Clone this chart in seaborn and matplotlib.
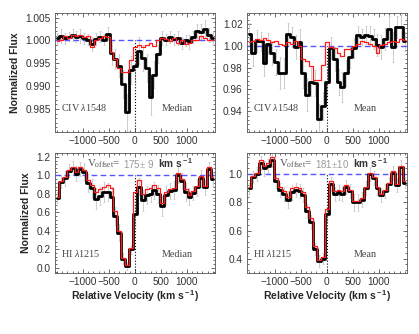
import numpy as np
import matplotlib
matplotlib.use("Agg")
import matplotlib.pyplot as plt
from matplotlib.ticker import MultipleLocator, AutoMinorLocator
import seaborn as sns

# ---- Data ------------------------------------------------------------------
velocity = np.arange(-1500, 1501, 75)  # bin centres, km/s

civ_median_black = [1.0005, 1.0010, 1.0005, 1.0008, 1.0012, 1.0008, 1.0010, 1.0005, 1.0002, 0.9992,
                    1.0003, 1.0008, 1.0002, 1.0015, 0.9972, 0.9960, 0.9945, 0.9905, 0.9843, 0.9935,
                    0.9945, 0.9978, 0.9962, 0.9940, 0.9877, 0.9925, 0.9970, 1.0005, 1.0002, 1.0008,
                    1.0003, 1.0006, 0.9995, 1.0000, 0.9996, 1.0008, 1.0020, 1.0018, 1.0025, 1.0012, 1.0005]
civ_median_red = [0.9998, 1.0002, 1.0010, 1.0005, 1.0013, 1.0010, 1.0012, 1.0008, 1.0010, 0.9985,
                  1.0000, 1.0005, 1.0010, 1.0008, 0.9975, 0.9960, 0.9940, 0.9930, 0.9930, 0.9958,
                  0.9985, 0.9990, 0.9985, 0.9990, 0.9995, 0.9988, 1.0000, 1.0005, 1.0003, 0.9998,
                  1.0005, 0.9995, 1.0002, 0.9992, 0.9995, 1.0000, 1.0002, 1.0010, 1.0005, 1.0002, 1.0000]
civ_median_err = [0.0012, 0.0015, 0.0012, 0.0010, 0.0013, 0.0012, 0.0015, 0.0012, 0.0013, 0.0015,
                  0.0014, 0.0012, 0.0013, 0.0015, 0.0025, 0.0022, 0.0025, 0.0030, 0.0040, 0.0030,
                  0.0035, 0.0030, 0.0028, 0.0030, 0.0040, 0.0030, 0.0020, 0.0015, 0.0012, 0.0013,
                  0.0012, 0.0015, 0.0013, 0.0012, 0.0015, 0.0013, 0.0015, 0.0018, 0.0020, 0.0015, 0.0013]

civ_mean_black = [1.011, 0.993, 1.004, 1.004, 0.984, 1.002, 0.993, 0.985, 0.975, 0.975,
                  1.011, 1.008, 0.999, 1.003, 0.975, 0.955, 0.967, 0.966, 0.933, 0.945,
                  0.967, 0.998, 0.988, 0.967, 0.962, 0.975, 0.990, 0.998, 1.010, 1.008,
                  1.010, 1.009, 1.006, 1.001, 0.999, 1.006, 1.015, 0.999, 1.017, 1.017, 1.004]
civ_mean_red = [1.003, 1.004, 1.006, 1.005, 1.007, 1.005, 1.003, 1.004, 1.002, 1.001,
                1.003, 1.002, 1.004, 1.000, 0.988, 0.986, 0.981, 0.969, 0.969, 0.982,
                1.003, 0.999, 0.998, 0.993, 0.991, 0.997, 0.997, 1.000, 1.002, 1.004,
                1.003, 1.002, 1.000, 0.993, 1.001, 1.002, 1.003, 1.004, 1.003, 1.006, 1.005]
civ_mean_err = [0.010, 0.012, 0.010, 0.009, 0.012, 0.010, 0.011, 0.012, 0.015, 0.014,
                0.010, 0.009, 0.011, 0.012, 0.014, 0.015, 0.013, 0.012, 0.014, 0.013,
                0.012, 0.010, 0.011, 0.012, 0.014, 0.012, 0.010, 0.009, 0.008, 0.007,
                0.008, 0.009, 0.009, 0.010, 0.011, 0.010, 0.012, 0.014, 0.010, 0.011, 0.009]

hi_median_black = [0.76, 0.93, 0.97, 1.05, 1.08, 1.02, 1.07, 1.04, 0.92, 0.86,
                   0.75, 0.78, 0.82, 0.82, 0.77, 0.56, 0.38, 0.10, 0.02, 0.20,
                   0.58, 0.88, 0.73, 0.79, 0.80, 0.84, 0.80, 0.67, 0.79, 0.83,
                   0.84, 1.01, 0.94, 0.82, 0.77, 0.81, 0.87, 0.97, 0.87, 1.07, 0.96]
hi_median_red = [0.77, 0.94, 0.98, 1.06, 1.09, 1.04, 1.09, 1.06, 0.95, 0.90,
                 0.82, 0.85, 0.88, 0.90, 0.86, 0.62, 0.40, 0.11, 0.03, 0.22,
                 0.82, 0.95, 0.80, 0.85, 0.86, 0.90, 0.86, 0.70, 0.82, 0.85,
                 0.86, 1.03, 0.96, 0.85, 0.79, 0.83, 0.89, 0.99, 0.89, 1.09, 0.98]
hi_median_err = [0.06, 0.07, 0.08, 0.07, 0.08, 0.08, 0.08, 0.09, 0.10, 0.10,
                 0.11, 0.10, 0.11, 0.10, 0.11, 0.10, 0.09, 0.06, 0.04, 0.05,
                 0.10, 0.09, 0.11, 0.10, 0.09, 0.09, 0.10, 0.11, 0.10, 0.09,
                 0.10, 0.09, 0.09, 0.10, 0.09, 0.08, 0.09, 0.09, 0.08, 0.08, 0.07]

hi_mean_black = [0.90, 0.98, 1.00, 1.08, 1.04, 1.06, 1.10, 0.95, 0.89, 0.86,
                 0.82, 0.87, 0.89, 0.88, 0.85, 0.74, 0.66, 0.47, 0.385, 0.40,
                 0.72, 0.93, 0.86, 0.87, 0.86, 0.91, 0.88, 0.80, 0.80, 0.82,
                 0.90, 1.00, 0.97, 0.90, 0.85, 0.88, 0.93, 1.01, 0.92, 1.05, 0.94]
hi_mean_red = [0.91, 0.99, 1.01, 1.10, 1.06, 1.08, 1.12, 0.97, 0.91, 0.88,
               0.84, 0.90, 0.91, 0.90, 0.87, 0.77, 0.69, 0.49, 0.39, 0.41,
               0.75, 0.95, 0.88, 0.89, 0.88, 0.92, 0.89, 0.81, 0.81, 0.83,
               0.91, 1.01, 0.98, 0.91, 0.86, 0.89, 0.94, 1.02, 0.93, 1.06, 0.95]
hi_mean_err = [0.04, 0.04, 0.05, 0.05, 0.05, 0.05, 0.05, 0.05, 0.05, 0.05,
               0.06, 0.05, 0.05, 0.05, 0.05, 0.05, 0.05, 0.04, 0.04, 0.04,
               0.05, 0.05, 0.05, 0.05, 0.05, 0.05, 0.05, 0.06, 0.06, 0.05,
               0.05, 0.05, 0.05, 0.05, 0.05, 0.05, 0.05, 0.05, 0.05, 0.05, 0.04]

panels = [
    dict(black=civ_median_black, red=civ_median_red, err=civ_median_err, ion="CIV $\\lambda$1548",
         stat="Median", ylim=(0.980, 1.006), yticks=[0.985, 0.990, 0.995, 1.000, 1.005], voff=None),
    dict(black=civ_mean_black, red=civ_mean_red, err=civ_mean_err, ion="CIV $\\lambda$1548",
         stat="Mean", ylim=(0.921, 1.030), yticks=[0.94, 0.96, 0.98, 1.00, 1.02], voff=None),
    dict(black=hi_median_black, red=hi_median_red, err=hi_median_err, ion="HI $\\lambda$1215",
         stat="Median", ylim=(-0.054, 1.243), yticks=[0.0, 0.2, 0.4, 0.6, 0.8, 1.0, 1.2],
         voff="175$\\pm$ 9"),
    dict(black=hi_mean_black, red=hi_mean_red, err=hi_mean_err, ion="HI $\\lambda$1215",
         stat="Mean", ylim=(0.30, 1.15), yticks=[0.4, 0.6, 0.8, 1.0], voff="181$\\pm$10"),
]

# ---- Figure ----------------------------------------------------------------
sns.set_style("ticks")
plt.rcParams["font.family"] = ["Liberation Sans", "DejaVu Sans"]
plt.rcParams["mathtext.fontset"] = "custom"
plt.rcParams["mathtext.rm"] = "Liberation Serif"
plt.rcParams["mathtext.it"] = "Liberation Serif:italic"
plt.rcParams["mathtext.bf"] = "Liberation Sans:bold"

fig = plt.figure(figsize=(4.19, 3.34), dpi=100)
positions = [
    [0.131, 0.605, 0.382, 0.356],
    [0.589, 0.605, 0.382, 0.356],
    [0.131, 0.183, 0.382, 0.359],
    [0.589, 0.183, 0.382, 0.359],
]

for k, (p, pos) in enumerate(zip(panels, positions)):
    ax = fig.add_axes(pos)
    ax.errorbar(velocity, p["black"], yerr=p["err"], fmt="none", ecolor="#c4c4c4",
                elinewidth=0.6, capsize=1.0, capthick=0.5, zorder=1)
    sns.lineplot(x=velocity, y=p["black"], ax=ax, color="black", lw=2.0,
                 drawstyle="steps-mid", zorder=3)
    sns.lineplot(x=velocity, y=p["red"], ax=ax, color="#ff1a1a", lw=0.9,
                 drawstyle="steps-mid", zorder=4)
    ax.axhline(1.0, color="#5555ff", ls=(0, (4, 2.5)), lw=1.0, zorder=2)
    ax.vlines(0, p["ylim"][0], 1.0, color="black", ls=":", lw=0.8, zorder=2)

    ax.set_xlim(-1540, 1540)
    ax.set_ylim(*p["ylim"])
    ax.set_xticks([-1000, -500, 0, 500, 1000])
    ax.set_yticks(p["yticks"])
    ax.xaxis.set_minor_locator(MultipleLocator(100))
    ax.yaxis.set_minor_locator(AutoMinorLocator(5))
    ax.tick_params(which="both", direction="in", top=True, right=True,
                   labelsize=7.3, width=0.5, colors="#333333", pad=3)
    ax.tick_params(which="major", length=3)
    ax.tick_params(which="minor", length=1.5)
    for s in ax.spines.values():
        s.set_linewidth(0.6)
        s.set_color("#555555")

    ax.text(0.04, 0.13 if k >= 2 else 0.18, p["ion"], transform=ax.transAxes,
            fontsize=7.3, color="#444444", family="Liberation Serif")
    ax.text(0.67, 0.13 if k >= 2 else 0.18, p["stat"], transform=ax.transAxes,
            fontsize=7.3, color="#444444", family="Liberation Serif")
    if p["voff"]:
        t1 = ax.text(0.2, 0.89, "V$_{\\rm offset}$=", transform=ax.transAxes,
                     fontsize=7.8, color="#555555", family="Liberation Serif")
        t2 = ax.annotate(p["voff"], xy=(1, 0), xycoords=t1, xytext=(2, 0),
                         textcoords="offset points", fontsize=7, color="#999999",
                         va="bottom")
        ax.annotate("km s$^{\\bf -1}$", xy=(1, 0), xycoords=t2, xytext=(3, 0),
                    textcoords="offset points", fontsize=7.3, color="#333333",
                    fontweight="bold", va="bottom")

    ax.set_xlabel("")
    ax.set_ylabel("")
    if k % 2 == 0:
        ax.set_ylabel("Normalized Flux", fontsize=7.5, fontweight="bold", labelpad=4)
    if k >= 2:
        ax.set_xlabel("Relative Velocity (km s$^{\\bf -1}$)", fontsize=7.5,
                      fontweight="bold", labelpad=1)

fig.savefig("out.png", dpi=100)
